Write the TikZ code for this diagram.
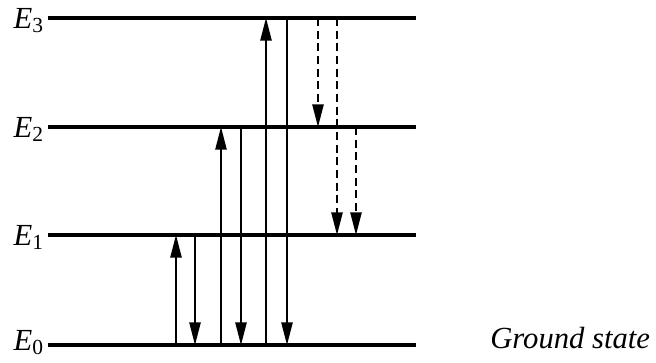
\documentclass[tikz,border=0pt]{standalone}
\usepackage{fontspec}
\setmainfont{Liberation Serif}
\usetikzlibrary{arrows.meta}
\begin{document}
\begin{tikzpicture}[x=0.75pt,y=-0.75pt,
  level/.style={line width=2.3pt},
  trans/.style={line width=1.1pt,-{Triangle[length=17pt,width=8.5pt]}},
  nonrad/.style={trans,dash pattern=on 6pt off 3.5pt},
  elabel/.style={anchor=base east,inner sep=0pt,font=\fontsize{23}{23}\selectfont},
  glabel/.style={anchor=base west,inner sep=0pt,font=\fontsize{23}{23}\selectfont\itshape}]
\useasboundingbox (0,0) rectangle (656,362);
% energy levels
\foreach \n/\y in {0/345,1/235,2/127,3/18}{
  \coordinate (L\n) at (48,\y);
  \coordinate (R\n) at (416,\y);
  \draw[level] (L\n) -- (R\n);
}
\node[elabel] (e3) at (44,28) {\textit{E}\textsubscript{3}};
\node[elabel] (e2) at (44,137) {\textit{E}\textsubscript{2}};
\node[elabel] (e1) at (44,245) {\textit{E}\textsubscript{1}};
\node[elabel] (e0) at (44,350) {\textit{E}\textsubscript{0}};
\node[glabel] (gs) at (490,348) {Ground state};
% columns of the transitions
\foreach \c/\x in {a/176,b/195,c/221,d/241,e/266,f/287,g/318,h/337,i/356}{
  \coordinate (\c) at (\x,0);
}
% absorption and emission
\draw[trans] (a |- L0) -- (a |- L1);
\draw[trans] (b |- L1) -- (b |- L0);
\draw[trans] (c |- L0) -- (c |- L2);
\draw[trans] (d |- L2) -- (d |- L0);
\draw[trans] (e |- L0) -- (e |- L3);
\draw[trans] (f |- L3) -- (f |- L0);
% decay between excited levels
\draw[nonrad] (g |- L3) -- (g |- L2);
\draw[nonrad] (h |- L3) -- (h |- L1);
\draw[nonrad] (i |- L2) -- (i |- L1);
\end{tikzpicture}
\end{document}
